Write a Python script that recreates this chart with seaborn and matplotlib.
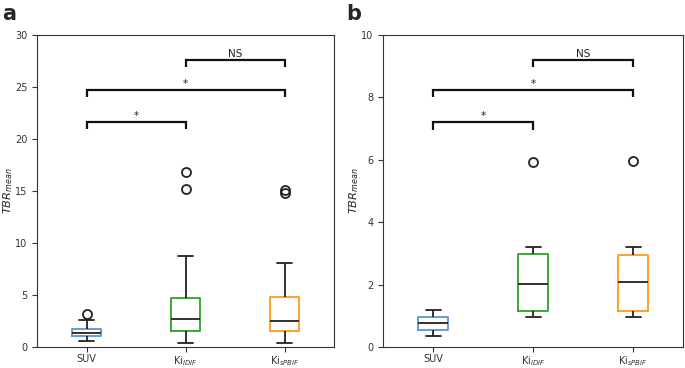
import matplotlib
matplotlib.use("Agg")
import matplotlib.pyplot as plt
import seaborn as sns
import pandas as pd

# ---- data ----
categories = ["SUV", "Ki$_{IDIF}$", "Ki$_{sPBIF}$"]

suv_a = [0.57, 0.8, 1.0, 1.1, 1.2, 1.3, 1.34, 1.5, 1.6, 1.75, 2.1, 2.58, 3.15]
idif_a = [0.35, 0.9, 1.2, 1.53, 2.0, 2.5, 2.74, 3.2, 4.0, 4.75, 8.76, 15.2, 16.8]
spbif_a = [0.35, 0.9, 1.2, 1.56, 2.0, 2.3, 2.52, 3.0, 4.0, 4.84, 8.12, 14.8, 15.1]

suv_b = [0.35, 0.45, 0.5, 0.55, 0.65, 0.72, 0.77, 0.82, 0.9, 0.95, 1.0, 1.1, 1.17]
idif_b = [0.95, 1.0, 1.1, 1.16, 1.4, 1.8, 2.01, 2.4, 2.8, 2.98, 3.1, 3.2, 5.92]
spbif_b = [0.95, 1.0, 1.1, 1.16, 1.5, 1.9, 2.08, 2.5, 2.8, 2.96, 3.1, 3.2, 5.96]

# significance comparisons: (group i, group j, label, bracket top)
comparisons_a = [(0, 1, "*", 21.65), (0, 2, "*", 24.7), (1, 2, "NS", 27.6)]
comparisons_b = [(0, 1, "*", 7.2), (0, 2, "*", 8.23), (1, 2, "NS", 9.2)]

ylim_a = (0, 30)
ylim_b = (0, 10)
yticks_a = [0, 5, 10, 15, 20, 25, 30]
yticks_b = [0, 2, 4, 6, 8, 10]

palette = {categories[0]: "#5b93cf", categories[1]: "#2ca02c", categories[2]: "#ff9a1a"}

sns.set_style("ticks")
plt.rcParams["font.family"] = ["DejaVu Sans"]
plt.rcParams["font.size"] = 7
plt.rcParams["mathtext.fontset"] = "dejavusans"


def make_df(a, b, c):
    rows = []
    for cat, vals in zip(categories, [a, b, c]):
        for v in vals:
            rows.append({"group": cat, "value": v})
    return pd.DataFrame(rows)


fig = plt.figure(figsize=(6.85, 3.68), dpi=100)
ax_a = fig.add_axes([37 / 685, 21 / 368, 297 / 685, 312 / 368])
ax_b = fig.add_axes([383 / 685, 21 / 368, 300 / 685, 312 / 368])


def draw(ax, df, comps, ylim, yticks, letter, letter_x):
    sns.boxplot(
        data=df, x="group", y="value", hue="group", palette=palette,
        order=categories, hue_order=categories, fill=False, width=0.3,
        linewidth=1.3, legend=False, ax=ax,
        whiskerprops={"color": "#222222"}, capprops={"color": "#222222"},
        medianprops={"color": "#222222"},
        flierprops={"marker": "o", "markeredgecolor": "#222222",
                    "markerfacecolor": "none", "markersize": 6.5,
                    "markeredgewidth": 1.3},
    )
    ax.set_ylim(*ylim)
    ax.set_yticks(yticks)
    ax.set_xlim(-0.5, 2.5)
    ax.set_xlabel("")
    ax.set_ylabel("$TBR_{mean}$", fontsize=8.2)
    ax.tick_params(labelsize=7, length=3.5, width=0.8, colors="#333333")
    ax.tick_params(axis="x", pad=1.5)
    for s in ax.spines.values():
        s.set_visible(True)
        s.set_linewidth(0.8)
        s.set_color("#333333")
    rng = ylim[1] - ylim[0]
    h = 0.023 * rng
    for i, j, lab, y in comps:
        ax.plot([i, i, j, j], [y - h, y, y, y - h], color="#111111", lw=1.6,
                solid_capstyle="butt", solid_joinstyle="miter")
        ax.text((i + j) / 2, y + 0.004 * rng, lab, ha="center", va="bottom",
                fontsize=7.5, color="#222222")
    fig.text(letter_x, 1 - 4 / 368, letter, fontsize=15, fontweight="bold",
             ha="left", va="top")


draw(ax_a, make_df(suv_a, idif_a, spbif_a), comparisons_a, ylim_a, yticks_a, "a", 2 / 685)
draw(ax_b, make_df(suv_b, idif_b, spbif_b), comparisons_b, ylim_b, yticks_b, "b", 346 / 685)
ax_a.yaxis.set_label_coords(-0.074, 0.5)
ax_b.yaxis.set_label_coords(-0.074, 0.5)

fig.savefig("out.png", dpi=100)
